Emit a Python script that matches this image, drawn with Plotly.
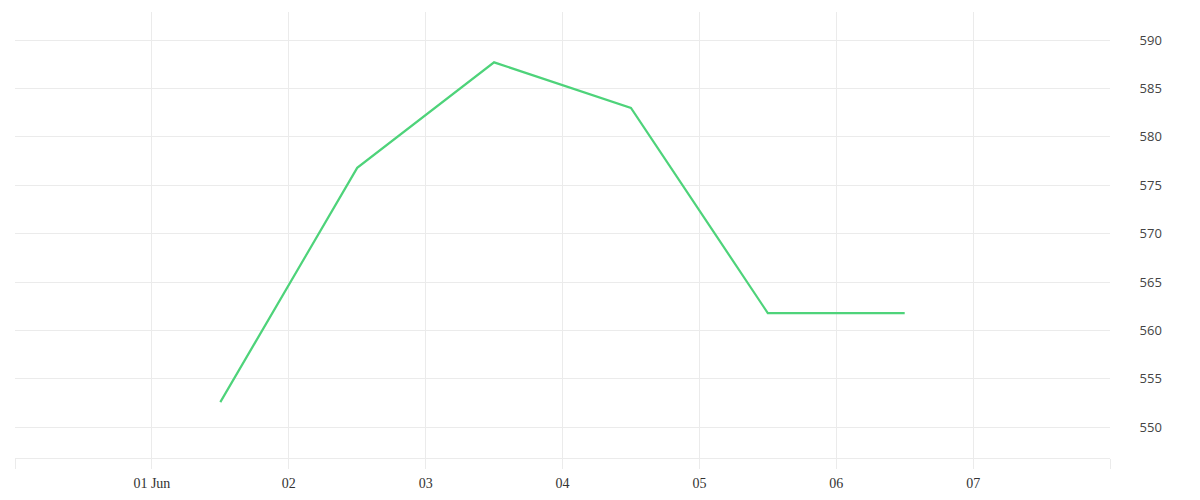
import plotly.graph_objects as go

# daily values, plotted at midday
dates = ['2024-06-01 12:00', '2024-06-02 12:00', '2024-06-03 12:00',
         '2024-06-04 12:00', '2024-06-05 12:00', '2024-06-06 12:00']
values = [552.6, 576.8, 587.7, 583.0, 561.8, 561.8]

tick_dates = ['2024-05-31', '2024-06-01', '2024-06-02', '2024-06-03',
              '2024-06-04', '2024-06-05', '2024-06-06', '2024-06-07',
              '2024-06-08']
tick_text = ['', '01 Jun', '02', '03', '04', '05', '06', '07', '']
y_ticks = [550, 555, 560, 565, 570, 575, 580, 585, 590]

grid = '#ebebeb'

fig = go.Figure()
fig.add_trace(go.Scatter(
    x=dates, y=values, mode='lines',
    line=dict(color='#4ed37a', width=2.2),
    hoverinfo='x+y', showlegend=False,
))

# the page body adds 8px, so margins are trimmed to land where the reference does
fig.update_layout(
    width=1200, height=500,
    margin=dict(l=7, r=98, t=4, b=50),
    paper_bgcolor='white', plot_bgcolor='white',
    xaxis=dict(
        range=['2024-05-31', '2024-06-08'],
        tickvals=tick_dates, ticktext=tick_text,
        showgrid=True, gridcolor=grid, gridwidth=1,
        ticks='outside', ticklen=10, tickcolor=grid,
        ticklabelstandoff=2,
        showline=True, linecolor=grid, linewidth=1,
        zeroline=False,
        tickfont=dict(family='Liberation Serif', size=14, color='#333'),
    ),
    yaxis=dict(
        side='right', range=[546.83, 592.9],
        tickvals=y_ticks,
        showgrid=True, gridcolor=grid, gridwidth=1,
        # invisible ticks push the labels away from the plot edge
        ticks='outside', ticklen=26, tickcolor='rgba(0,0,0,0)',
        zeroline=False, showline=False,
        tickfont=dict(family='Open Sans', size=13, color='#444'),
    ),
)

fig.write_html('out.html')
